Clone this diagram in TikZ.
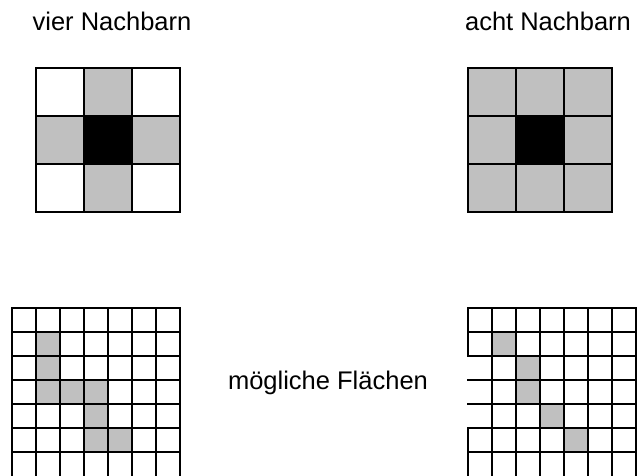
\documentclass[tikz,border=0pt]{standalone}
\usepackage{fontspec}
\setmainfont{Liberation Sans}
\usepackage{tikz}
\usetikzlibrary{positioning}
\definecolor{cellgrey}{RGB}{192,192,192}

\begin{document}
\begin{tikzpicture}[
  x=1pt,y=-1pt,
  lbl/.style={font=\fontsize{25.5}{30}\selectfont,inner sep=0pt,anchor=base},
  gline/.style={line width=2.9pt,line cap=rect},
  nb/.style={fill=cellgrey},
  mid/.style={fill=black}
]
\useasboundingbox (0,0) rectangle (638,475);

% labels
\node[lbl] (vier) at (112,30) {vier Nachbarn};
\node[lbl] (acht) at (548,30) {acht Nachbarn};
\node[lbl] (flaechen) at (328,389) {m\"ogliche Fl\"achen};

% vier Nachbarn, 3x3
\foreach \c/\r in {1/0,0/1,2/1,1/2}
  \fill[nb] ({36+48*\c},{68+48*\r}) rectangle ++(48,48);
\fill[mid] (84,116) rectangle ++(48,48);
\foreach \k in {0,...,3} {
  \draw[gline] ({36+48*\k},68) -- ({36+48*\k},212);
  \draw[gline] (36,{68+48*\k}) -- (180,{68+48*\k});
}

% acht Nachbarn, 3x3
\fill[nb] (468,68) rectangle (612,212);
\fill[mid] (516,116) rectangle ++(48,48);
\foreach \k in {0,...,3} {
  \draw[gline] ({468+48*\k},68) -- ({468+48*\k},212);
  \draw[gline] (468,{68+48*\k}) -- (612,{68+48*\k});
}

% moegliche Flaechen, links
\foreach \c/\r in {1/1,1/2,1/3,2/3,3/3,3/4,3/5,4/5}
  \fill[nb] ({12+24*\c},{308+24*\r}) rectangle ++(24,24);
\foreach \k in {0,...,7}
  \draw[gline] ({12+24*\k},308) -- ({12+24*\k},475);
\foreach \k in {0,...,6}
  \draw[gline] (12,{308+24*\k}) -- (180,{308+24*\k});

% moegliche Flaechen, rechts
\foreach \c/\r in {1/1,2/2,2/3,3/4,4/5}
  \fill[nb] ({468+24*\c},{308+24*\r}) rectangle ++(24,24);
\foreach \k in {1,...,7}
  \draw[gline] ({468+24*\k},308) -- ({468+24*\k},475);
\draw[gline] (468,308) -- (468,356);
\draw[gline] (468,428) -- (468,475);
\foreach \k in {0,...,6}
  \draw[gline] (468,{308+24*\k}) -- (636,{308+24*\k});
\end{tikzpicture}
\end{document}
